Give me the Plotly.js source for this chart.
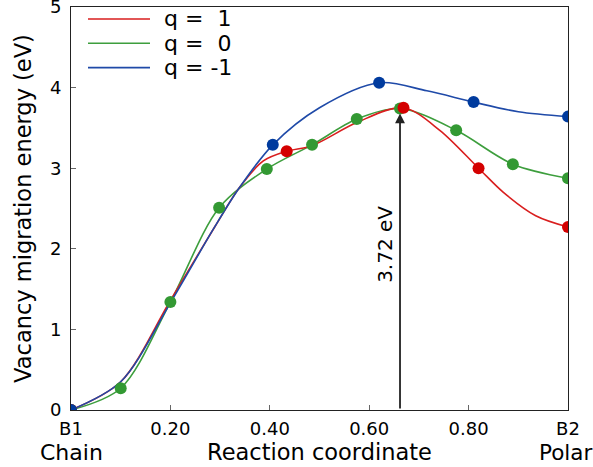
<!DOCTYPE html>
<html><head><meta charset="utf-8">
<script src="https://cdn.plot.ly/plotly-3.0.1.min.js"></script>
<style>body{margin:0;background:#fff}#c{width:593px;height:467px}</style>
</head><body><div id="c"></div>
<script>
// Smooth curves
const redLineX   = [0, 0.1, 0.2, 0.29, 0.339, 0.387, 0.434, 0.485, 0.576, 0.669, 0.742, 0.82, 0.87, 0.935, 1.0];
const redLineY   = [0, 0.35, 1.36, 2.28, 2.76, 3.09, 3.21, 3.28, 3.57, 3.75, 3.47, 3.0, 2.70, 2.41, 2.27];
const greenLineX = [0, 0.1, 0.2, 0.298, 0.394, 0.485, 0.575, 0.662, 0.775, 0.889, 1.0];
const greenLineY = [0, 0.27, 1.34, 2.51, 2.99, 3.29, 3.61, 3.74, 3.47, 3.05, 2.875];
const blueLineX  = [0, 0.1, 0.2, 0.286, 0.339, 0.406, 0.5, 0.62, 0.716, 0.81, 0.9, 1.0];
const blueLineY  = [0, 0.35, 1.33, 2.24, 2.76, 3.29, 3.75, 4.06, 3.96, 3.82, 3.70, 3.64];
// Marked points
const redPtX   = [0, 0.434, 0.669, 0.82, 1.0];
const redPtY   = [0, 3.21, 3.75, 3.0, 2.27];
const greenPtX = [0, 0.1, 0.2, 0.298, 0.394, 0.485, 0.575, 0.662, 0.775, 0.889, 1.0];
const greenPtY = [0, 0.27, 1.34, 2.51, 2.99, 3.29, 3.61, 3.74, 3.47, 3.05, 2.875];
const bluePtX  = [0, 0.406, 0.62, 0.81, 1.0];
const bluePtY  = [0, 3.29, 4.06, 3.82, 3.64];
const tickVals = [0, 0.2, 0.4, 0.6, 0.8, 1.0];
const tickText = ["B1", "0.20", "0.40", "0.60", "0.80", "B2"];
const legendNames = ["q = \u00a01", "q = \u00a00", "q = -1"];
const barrier = 3.72, barrierX = 0.662;

const F = "DejaVu Sans, sans-serif";
const cols = {r:'#d91e1e', g:'#3d9e3d', b:'#1f4aa8'};
const mcols = {r:'#d40000', g:'#339933', b:'#003b9e'};
function line(x,y,c,name){return {x:x,y:y,mode:'lines',line:{color:c,width:1.6,shape:'spline',smoothing:0.9},name:name,showlegend:false,hoverinfo:'skip'};}
function pts(x,y,c){return {x:x,y:y,mode:'markers',marker:{color:c,size:12},showlegend:false,hoverinfo:'skip'};}
const data = [
  line(greenLineX,greenLineY,cols.g,legendNames[1]),
  line(redLineX,redLineY,cols.r,legendNames[0]),
  line(blueLineX,blueLineY,cols.b,legendNames[2]),
  pts(greenPtX,greenPtY,mcols.g),
  pts(redPtX,redPtY,mcols.r),
  pts(bluePtX,bluePtY,mcols.b)
];
// legend drawn as sample lines + labels (upper left, no frame)
const legCols = [cols.r, cols.g, cols.b];
const shapes = [], anns = [];
const W = 593, H = 467, ml = 71, mr = 25, mt = 7, mb = 57;
const pw = W-ml-mr, ph = H-mt-mb;
legendNames.forEach((n,i)=>{
  const yPix = 19 + i*24.3;
  const yp = 1 - (yPix-mt)/ph;
  shapes.push({type:'line', xref:'paper', yref:'paper', x0:(88-ml)/pw, x1:(150-ml)/pw, y0:yp, y1:yp, line:{color:legCols[i], width:1.6}});
  anns.push({xref:'paper', yref:'paper', x:(162-ml)/pw, y:yp, xanchor:'left', yanchor:'middle', text:n, showarrow:false, font:{size:22}});
});
const layout = {
  width:W, height:H,
  margin:{l:ml, r:mr, t:mt, b:mb},
  paper_bgcolor:'#fff', plot_bgcolor:'#fff',
  font:{family:F, size:18, color:'#000'},
  showlegend:false,
  xaxis:{range:[0,1], tickvals:tickVals, ticktext:tickText, ticks:'inside', ticklen:5, tickcolor:'#666', ticklabelstandoff:2,
         showline:true, mirror:true, linecolor:'#222', linewidth:1, showgrid:false, zeroline:false,
         tickfont:{size:18}, title:{text:'Reaction coordinate', font:{size:22.5}, standoff:0}},
  yaxis:{range:[0,5], tickvals:[0,1,2,3,4,5], ticks:'inside', ticklen:5, tickcolor:'#666', ticklabelstandoff:5,
         ticklabeloverflow:'allow',
         showline:true, mirror:true, linecolor:'#222', linewidth:1, showgrid:false, zeroline:false,
         tickfont:{size:18}, title:{text:'Vacancy migration energy (eV)', font:{size:22.5}, standoff:12}},
  shapes: shapes,
  annotations:[
    {x:barrierX, y:barrier-0.04, ax:barrierX, ay:0, xref:'x', yref:'y', axref:'x', ayref:'y',
     text:'', showarrow:true, arrowhead:2, arrowsize:1.1, arrowwidth:1.8, arrowcolor:'#222'},
    {x:barrierX-0.03, y:2.05, xref:'x', yref:'y', text:barrier.toFixed(2)+' eV', showarrow:false,
     textangle:-90, font:{size:20}},
    {x:0, y:0, xref:'x', yref:'paper', yanchor:'middle', yshift:-(452-410), text:'Chain', showarrow:false, font:{size:22}},
    {x:1, y:0, xref:'x', yref:'paper', yanchor:'middle', yshift:-(452-410), xshift:-2, text:'Polar', showarrow:false, font:{size:21.5}}
  ].concat(anns)
};
Plotly.newPlot('c', data, layout, {displayModeBar:false, staticPlot:true});
</script></body></html>
